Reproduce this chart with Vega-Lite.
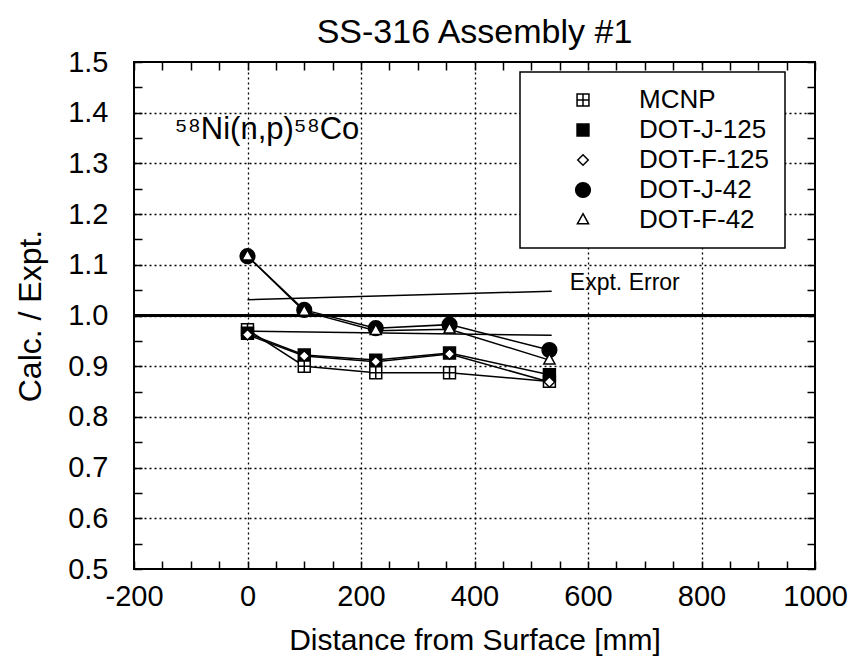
{
  "$schema": "https://vega.github.io/schema/vega-lite/v6.json",
  "width": 681,
  "height": 507,
  "autosize": {"type": "none"},
  "padding": {"left": 134, "top": 62, "right": 40, "bottom": 87},
  "background": "white",
  "title": {
    "text": "SS-316  Assembly #1",
    "fontSize": 34,
    "fontWeight": "normal",
    "font": "Liberation Sans",
    "color": "black",
    "anchor": "middle",
    "frame": "group",
    "offset": -2
  },
  "config": {
    "font": "Liberation Sans",
    "view": {"stroke": "black", "strokeWidth": 2},
    "axis": {
      "labelFont": "Liberation Sans",
      "titleFont": "Liberation Sans",
      "labelColor": "black",
      "titleColor": "black",
      "tickColor": "black",
      "domain": false,
      "titleFontWeight": "normal"
    },
    "legend": {"strokeWidth": 1.5}
  },
  "datasets": {
    "ratios": [
      {"series": "MCNP", "d": 0, "r": 0.972},
      {"series": "MCNP", "d": 100, "r": 0.9},
      {"series": "MCNP", "d": 226, "r": 0.887},
      {"series": "MCNP", "d": 356, "r": 0.887},
      {"series": "MCNP", "d": 532, "r": 0.87},
      {"series": "DOT-J-125", "d": 0, "r": 0.965},
      {"series": "DOT-J-125", "d": 100, "r": 0.922},
      {"series": "DOT-J-125", "d": 226, "r": 0.912},
      {"series": "DOT-J-125", "d": 356, "r": 0.926},
      {"series": "DOT-J-125", "d": 532, "r": 0.883},
      {"series": "DOT-F-125", "d": 0, "r": 0.962},
      {"series": "DOT-F-125", "d": 100, "r": 0.92},
      {"series": "DOT-F-125", "d": 226, "r": 0.909},
      {"series": "DOT-F-125", "d": 356, "r": 0.924},
      {"series": "DOT-F-125", "d": 532, "r": 0.869},
      {"series": "DOT-J-42", "d": 0, "r": 1.117},
      {"series": "DOT-J-42", "d": 100, "r": 1.011},
      {"series": "DOT-J-42", "d": 226, "r": 0.975},
      {"series": "DOT-J-42", "d": 356, "r": 0.982},
      {"series": "DOT-J-42", "d": 532, "r": 0.932},
      {"series": "DOT-F-42", "d": 0, "r": 1.117},
      {"series": "DOT-F-42", "d": 100, "r": 1.008},
      {"series": "DOT-F-42", "d": 226, "r": 0.97},
      {"series": "DOT-F-42", "d": 356, "r": 0.973},
      {"series": "DOT-F-42", "d": 532, "r": 0.912}
    ],
    "errorBand": [
      {"d": 0, "r": 1.031, "d2": 536, "r2": 1.048},
      {"d": 0, "r": 0.969, "d2": 536, "r2": 0.961}
    ],
    "unity": [{"r": 1.0}],
    "reaction": [{"d": -128, "r": 1.348, "label": "⁵⁸Ni(n,p)⁵⁸Co"}],
    "errNote": [{"d": 568, "r": 1.051, "label": "Expt. Error"}]
  },
  "layer": [
    {
      "data": {"name": "ratios"},
      "mark": {"type": "line", "color": "black", "strokeWidth": 1.5},
      "encoding": {
        "x": {
          "field": "d",
          "type": "quantitative",
          "scale": {"domain": [-200, 1000], "nice": false, "zero": false},
          "axis": {
            "title": "Distance from Surface  [mm]",
            "values": [-200, -150, -100, -50, 0, 50, 100, 150, 200, 250, 300, 350, 400, 450, 500, 550, 600, 650, 700, 750, 800, 850, 900, 950, 1000],
            "labelExpr": "datum.value % 200 === 0 ? '' + datum.value : ''",
            "labelFontSize": 29,
            "labelPadding": 21,
            "labelFlush": false,
            "labelOverlap": false,
            "tickSize": -8,
            "tickWidth": 1.5,
            "grid": true,
            "gridColor": "black",
            "gridDash": [2, 3],
            "gridWidth": 1.3,
            "gridOpacity": {"condition": {"test": "datum.value % 200 === 0 && datum.value > -200 && datum.value < 1000", "value": 1}, "value": 0},
            "titleFontSize": 30,
            "titlePadding": 14
          }
        },
        "y": {
          "field": "r",
          "type": "quantitative",
          "scale": {"domain": [0.5, 1.5], "nice": false, "zero": false},
          "axis": {
            "title": "Calc. / Expt.",
            "values": [0.5, 0.55, 0.6, 0.65, 0.7, 0.75, 0.8, 0.85, 0.9, 0.95, 1.0, 1.05, 1.1, 1.15, 1.2, 1.25, 1.3, 1.35, 1.4, 1.45, 1.5],
            "labelExpr": "round(datum.value * 20) % 2 === 0 ? format(datum.value, '.1f') : ''",
            "labelFontSize": 29,
            "labelPadding": 34,
            "labelOverlap": false,
            "labelFlush": false,
            "tickSize": -8,
            "tickWidth": 1.5,
            "grid": true,
            "gridColor": "black",
            "gridDash": [2, 3],
            "gridWidth": 1.3,
            "gridOpacity": {"condition": {"test": "round(datum.value * 20) % 2 === 0 && datum.value > 0.55 && datum.value < 1.45", "value": 1}, "value": 0},
            "titleFontSize": 32,
            "titlePadding": 20
          }
        },
        "detail": {"field": "series"}
      }
    },
    {
      "data": {"name": "errorBand"},
      "mark": {"type": "rule", "color": "black", "strokeWidth": 1.5},
      "encoding": {
        "x": {
          "field": "d",
          "type": "quantitative",
          "scale": {"domain": [-200, 1000], "nice": false, "zero": false},
          "axis": {
            "orient": "top",
            "title": null,
            "labels": false,
            "grid": false,
            "values": [-200, -150, -100, -50, 0, 50, 100, 150, 200, 250, 300, 350, 400, 450, 500, 550, 600, 650, 700, 750, 800, 850, 900, 950, 1000],
            "tickSize": -8,
            "tickWidth": 1.5
          }
        },
        "y": {
          "field": "r",
          "type": "quantitative",
          "scale": {"domain": [0.5, 1.5], "nice": false, "zero": false},
          "axis": {
            "orient": "right",
            "title": null,
            "labels": false,
            "grid": false,
            "values": [0.5, 0.55, 0.6, 0.65, 0.7, 0.75, 0.8, 0.85, 0.9, 0.95, 1.0, 1.05, 1.1, 1.15, 1.2, 1.25, 1.3, 1.35, 1.4, 1.45, 1.5],
            "tickSize": -8,
            "tickWidth": 1.5
          }
        },
        "x2": {"field": "d2"},
        "y2": {"field": "r2"}
      }
    },
    {
      "data": {"name": "unity"},
      "mark": {"type": "rule", "color": "black", "strokeWidth": 3},
      "encoding": {
        "y": {
          "field": "r",
          "type": "quantitative",
          "scale": {"domain": [0.5, 1.5], "nice": false, "zero": false},
          "axis": null
        }
      }
    },
    {
      "data": {"name": "ratios"},
      "mark": {"type": "point", "filled": true, "stroke": "black", "strokeWidth": 1.5, "size": 196, "opacity": 1},
      "encoding": {
        "x": {"field": "d", "type": "quantitative", "scale": {"domain": [-200, 1000], "nice": false, "zero": false}, "axis": null},
        "y": {"field": "r", "type": "quantitative", "scale": {"domain": [0.5, 1.5], "nice": false, "zero": false}, "axis": null},
        "shape": {
          "field": "series",
          "type": "nominal",
          "scale": {
            "domain": ["MCNP", "DOT-J-125", "DOT-F-125", "DOT-J-42", "DOT-F-42"],
            "range": [
              "M-0.85,-0.85H0.85V0.85H-0.85ZM0,-0.85V0.85M-0.85,0H0.85",
              "M-0.85,-0.85H0.85V0.85H-0.85Z",
              "M0,-0.75L0.75,0L0,0.75L-0.75,0Z",
              "M-1.05,0A1.05,1.05 0 1,1 1.05,0A1.05,1.05 0 1,1 -1.05,0Z",
              "M0,-0.9L0.8,0.55L-0.8,0.55Z"
            ]
          },
          "legend": {
            "title": null,
            "orient": "none",
            "legendX": 386,
            "legendY": 10,
            "symbolSize": 196,
            "symbolOffset": 35,
            "symbolStrokeWidth": 1.5,
            "labelOffset": 43,
            "labelFontSize": 26,
            "labelFont": "Liberation Sans",
            "labelColor": "black",
            "padding": 15,
            "rowPadding": 4,
            "strokeColor": "black",
            "fillColor": "white",
            "encode": {
              "symbols": {
                "fill": {
                  "condition": {"test": "datum.value === 'DOT-J-125' || datum.value === 'DOT-J-42'", "value": "black"},
                  "value": "white"
                },
                "stroke": {"value": "black"},
                "strokeWidth": {"value": 1.5}
              }
            }
          }
        },
        "fill": {
          "field": "series",
          "type": "nominal",
          "scale": {
            "domain": ["MCNP", "DOT-J-125", "DOT-F-125", "DOT-J-42", "DOT-F-42"],
            "range": ["white", "black", "white", "black", "white"]
          },
          "legend": null
        }
      }
    },
    {
      "data": {"name": "reaction"},
      "mark": {"type": "text", "align": "left", "baseline": "alphabetic", "fontSize": 31, "font": "Liberation Sans", "color": "black"},
      "encoding": {
        "x": {"field": "d", "type": "quantitative", "scale": {"domain": [-200, 1000], "nice": false, "zero": false}, "axis": null},
        "y": {"field": "r", "type": "quantitative", "scale": {"domain": [0.5, 1.5], "nice": false, "zero": false}, "axis": null},
        "text": {"field": "label"}
      }
    },
    {
      "data": {"name": "errNote"},
      "mark": {"type": "text", "align": "left", "baseline": "alphabetic", "fontSize": 23, "font": "Liberation Sans", "color": "black"},
      "encoding": {
        "x": {"field": "d", "type": "quantitative", "scale": {"domain": [-200, 1000], "nice": false, "zero": false}, "axis": null},
        "y": {"field": "r", "type": "quantitative", "scale": {"domain": [0.5, 1.5], "nice": false, "zero": false}, "axis": null},
        "text": {"field": "label"}
      }
    }
  ],
  "resolve": {
    "axis": {"x": "independent", "y": "independent"}
  }
}
